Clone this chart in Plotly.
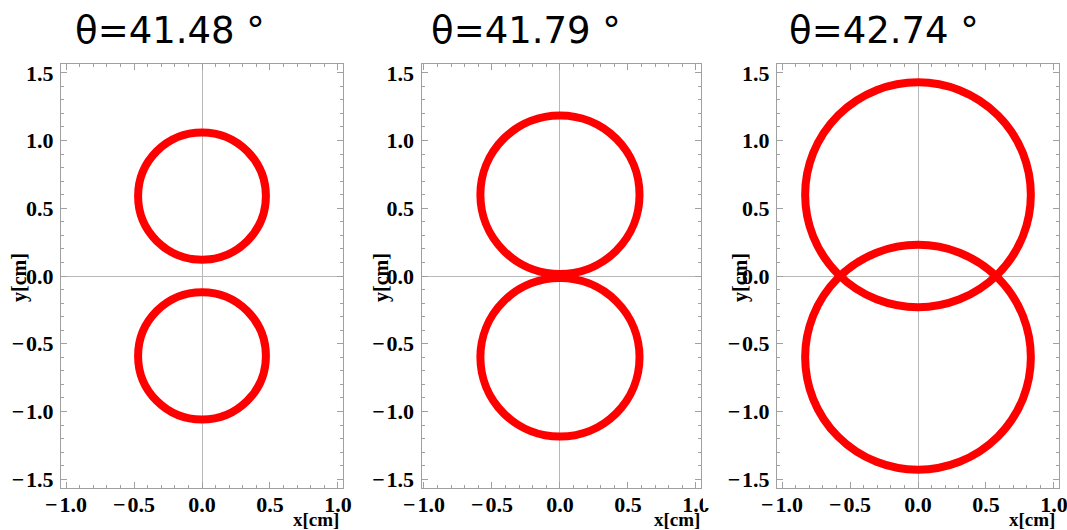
import plotly.graph_objects as go

W, H = 1067, 530

# ---- data ----
angle_labels = ["θ=41.48 °", "θ=41.79 °", "θ=42.74 °"]
circle_cy = [0.59, 0.60, 0.60]      # centre of upper circle (lower is mirrored)
circle_r = [0.47, 0.585, 0.83]
x_ranges = [[-1.037, 1.037], [-1.018, 1.037], [-1.037, 1.037]]
y_range = [-1.565, 1.565]
x_tickvals = [-1.0, -0.5, 0.0, 0.5, 1.0]
y_tickvals = [-1.5, -1.0, -0.5, 0.0, 0.5, 1.0, 1.5]

# ---- layout geometry (pixels) ----
frames_px = [(61, 343), (421.5, 701), (777, 1059)]
top_px, bot_px = 64, 488
title_cx = [170, 526, 884]
ylab_x = [19, 381, 740]
xlab_right = [341, 702, 1057]


def px(x):
    return x / W


def py(y):
    return 1 - y / H


def fmt(v):
    s = f"{abs(v):.1f}"
    if v < 0:
        s = "\u2212\u200a" + s
    return f"<b>{s}</b>"


fig = go.Figure()
tickfont = dict(family="Liberation Serif", size=22, color="black")
frame_col = "#a0a0a0"

for i in range(3):
    sfx = "" if i == 0 else str(i + 1)
    l, r = frames_px[i]
    common = dict(
        showline=True, linecolor=frame_col, linewidth=1, mirror="ticks",
        ticks="inside", ticklen=6, tickcolor=frame_col, tickwidth=1,
        showgrid=False, zeroline=True, zerolinecolor="#b8b8b8", zerolinewidth=1,
        tickfont=tickfont, fixedrange=True, automargin=False,
        ticklabeloverflow="allow",
        minor=dict(dtick=0.1, ticks="inside", ticklen=3, tickcolor=frame_col, showgrid=False),
    )
    fig.layout["xaxis" + sfx] = dict(
        domain=[px(l), px(r)], range=x_ranges[i], anchor="y" + sfx,
        tickvals=x_tickvals, ticktext=[fmt(v) for v in x_tickvals],
        ticklabelstandoff=-3, **common)
    fig.layout["yaxis" + sfx] = dict(
        domain=[py(bot_px), py(top_px)], range=y_range, anchor="x" + sfx,
        tickvals=y_tickvals, ticktext=[fmt(v) for v in y_tickvals],
        ticklabelstandoff=2, **common)
    # invisible trace so axes render
    fig.add_trace(go.Scatter(x=[0], y=[0], mode="markers", marker=dict(opacity=0),
                             xaxis="x" + sfx, yaxis="y" + sfx, showlegend=False,
                             hoverinfo="skip"))
    for sgn in (1, -1):
        cy = sgn * circle_cy[i]
        rr = circle_r[i]
        fig.add_shape(type="circle", xref="x" + sfx, yref="y" + sfx,
                      x0=-rr, x1=rr, y0=cy - rr, y1=cy + rr,
                      line=dict(color="#ff0000", width=8), layer="above")
    fig.add_annotation(text=angle_labels[i], xref="paper", yref="paper",
                       x=px(title_cx[i]), y=py(31), xanchor="center", yanchor="middle",
                       showarrow=False,
                       font=dict(family="DejaVu Sans", size=37, color="black"))
    fig.add_annotation(text="<b>y[cm]</b>", xref="paper", yref="paper",
                       x=px(ylab_x[i]), y=py(278), xanchor="center", yanchor="middle",
                       textangle=-90, showarrow=False,
                       font=dict(family="Liberation Serif", size=20, color="black"))
    fig.add_annotation(text="<b>x[cm]</b>", xref="paper", yref="paper",
                       x=px(xlab_right[i]), y=0, xanchor="right", yanchor="bottom",
                       yshift=-2, showarrow=False,
                       font=dict(family="Liberation Serif", size=19, color="black"))

# clip of the last tick label of the middle panel (as in the reference)
fig.add_shape(type="rect", xref="paper", yref="paper",
              x0=px(703), x1=px(722), y0=py(508), y1=py(488.5),
              fillcolor="white", line=dict(width=0), layer="above")

fig.update_layout(
    width=W, height=H, margin=dict(l=0, r=0, t=0, b=0, autoexpand=False),
    paper_bgcolor="white", plot_bgcolor="white", showlegend=False,
    font=dict(family="Liberation Serif", size=20, color="black"),
)

fig.write_html("out.html")
